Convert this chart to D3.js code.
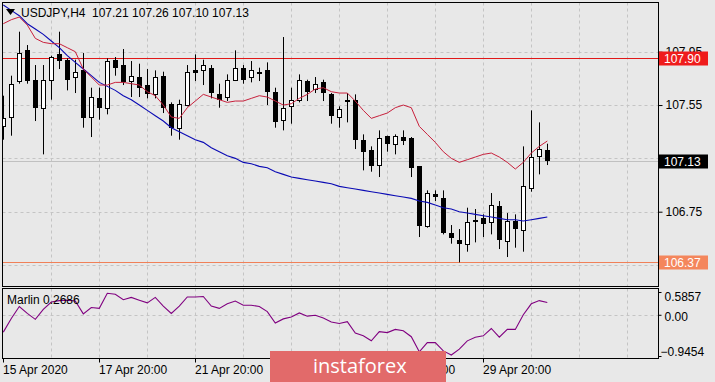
<!DOCTYPE html>
<html><head><meta charset="utf-8">
<script src="https://cdn.jsdelivr.net/npm/d3@7"></script>
<style>
html,body{margin:0;padding:0;background:#e8e8e8;overflow:hidden;}
svg{display:block;}
text{font-family:"Liberation Sans",Arial,sans-serif;font-size:12px;fill:#000;}
</style></head><body>
<svg id="c" width="715" height="382"></svg>
<script>
// ---- Data (USDJPY H4) ----
const symbolName = "USDJPY,H4";
const ohlcTitle = "107.21 107.26 107.10 107.13";
const opens  = [107.39,107.46,107.73,107.96,107.74,107.53,107.74,107.93,107.89,107.76,107.81,107.46,107.60,107.53,107.89,107.85,107.73,107.76,107.70,107.63,107.77,107.56,107.38,107.55,107.81,107.81,107.83,107.63,107.61,107.74,107.83,107.76,107.80,107.81,107.65,107.44,107.54,107.59,107.73,107.67,107.72,107.63,107.46,107.59,107.59,107.29,107.21,107.10,107.32,107.26,107.31,107.30,107.09,106.64,106.88,106.85,106.59,106.54,106.51,106.69,106.70,106.67,106.79,106.53,106.68,106.61,106.93,107.17,107.21];
const highs  = [107.62,107.77,108.10,108.00,107.85,107.85,107.92,108.10,107.90,107.89,107.94,107.68,107.68,107.90,107.91,107.97,107.88,107.86,107.82,107.81,107.80,107.57,107.59,107.85,107.93,107.89,107.85,107.71,107.78,107.96,107.85,107.88,107.83,107.87,107.68,108.06,107.68,107.78,107.74,107.76,107.74,107.64,107.54,107.64,107.63,107.33,107.24,107.36,107.32,107.33,107.36,107.31,107.09,106.91,106.91,106.91,106.65,106.62,106.78,106.77,106.73,106.89,106.83,106.74,106.73,107.24,107.51,107.42,107.26];
const lows   = [107.29,107.32,107.71,107.71,107.43,107.18,107.59,107.82,107.66,107.64,107.38,107.31,107.44,107.48,107.77,107.70,107.61,107.61,107.60,107.60,107.49,107.32,107.29,107.54,107.73,107.70,107.60,107.53,107.58,107.73,107.71,107.72,107.73,107.55,107.38,107.36,107.41,107.57,107.58,107.64,107.58,107.41,107.38,107.42,107.22,107.06,107.05,107.01,107.20,107.18,107.25,107.01,106.56,106.63,106.83,106.58,106.51,106.37,106.45,106.52,106.56,106.58,106.47,106.41,106.48,106.45,106.90,107.03,107.10];
const closes = [107.45,107.71,107.94,107.73,107.53,107.74,107.91,107.88,107.74,107.80,107.45,107.61,107.53,107.88,107.83,107.72,107.77,107.68,107.63,107.76,107.53,107.38,107.56,107.80,107.79,107.85,107.64,107.59,107.74,107.83,107.74,107.81,107.79,107.65,107.42,107.53,107.59,107.74,107.65,107.71,107.64,107.47,107.52,107.58,107.29,107.20,107.09,107.30,107.26,107.32,107.28,107.08,106.64,106.89,106.86,106.59,106.55,106.51,106.67,106.68,106.66,106.80,106.54,106.68,106.62,106.94,107.16,107.22,107.13];
const maRed  = [108.16,108.19,108.21,108.15,108.05,108.02,108.01,108.01,107.98,107.95,107.82,107.76,107.70,107.70,107.72,107.72,107.71,107.70,107.65,107.62,107.55,107.46,107.45,107.53,107.58,107.63,107.61,107.59,107.57,107.58,107.58,107.60,107.62,107.61,107.58,107.55,107.56,107.60,107.63,107.67,107.68,107.65,107.64,107.64,107.58,107.51,107.45,107.47,107.49,107.53,107.55,107.53,107.39,107.33,107.27,107.20,107.15,107.12,107.14,107.16,107.18,107.19,107.16,107.12,107.07,107.12,107.19,107.24,107.28];
const maBlue = [108.30,108.26,108.22,108.16,108.12,108.08,108.03,107.98,107.92,107.87,107.82,107.77,107.72,107.69,107.66,107.62,107.59,107.55,107.51,107.47,107.43,107.38,107.35,107.32,107.29,107.27,107.23,107.20,107.17,107.15,107.12,107.11,107.09,107.08,107.05,107.03,107.01,107.00,106.99,106.98,106.97,106.96,106.94,106.93,106.92,106.91,106.90,106.89,106.88,106.87,106.86,106.85,106.83,106.82,106.80,106.78,106.77,106.75,106.74,106.73,106.72,106.71,106.70,106.69,106.69,106.68,106.69,106.70,106.71];
const marlin = [-0.38,-0.08,0.18,0.03,-0.10,0.12,0.28,0.31,0.32,0.30,0.02,0.16,0.14,0.47,0.45,0.33,0.38,0.32,0.26,0.38,0.19,0.03,0.19,0.39,0.39,0.40,0.19,0.14,0.24,0.30,0.21,0.21,0.18,0.07,-0.18,-0.09,-0.05,0.04,-0.03,-0.01,-0.07,-0.16,-0.19,-0.15,-0.40,-0.46,-0.57,-0.37,-0.39,-0.32,-0.35,-0.48,-0.81,-0.61,-0.61,-0.79,-0.88,-0.75,-0.57,-0.49,-0.46,-0.30,-0.49,-0.32,-0.32,0.00,0.24,0.31,0.2686];
const timeTickIdx    = [0, 12, 24, 36, 48, 60];
const timeTickLabels = ["15 Apr 2020","17 Apr 20:00","21 Apr 20:00","","27 Apr 20:00","29 Apr 20:00"];
const priceTicks  = [107.95, 107.55, 107.15, 106.75, 106.35];
const priceLabelTicks = [107.95, 107.55, 106.75];
const resistance  = 107.90;
const support     = 106.37;
const lastPrice   = 107.13;
const marlinTicks = [0.5857, 0.00, -0.9454];
const marlinLabel = "Marlin 0.2686";

// ---- Layout ----
const W = 715, H = 382;
const L = 2.5, R = 658.5, T = 2.5, B1 = 286.5, T2 = 288.5, B2 = 358.5;
const svg = d3.select("#c");
const n = closes.length;

const x = d3.scaleLinear().domain([0, n - 1]).range([3.3, 547.3]);
const y = d3.scaleLinear().domain([106.75, 107.95]).range([211.7, 51.7]);
const ym = d3.scaleLinear().domain([-0.9454, 0.5857]).range([358, 288]);

svg.append("rect").attr("width", W).attr("height", H).attr("fill", "#e8e8e8");

const defs = svg.append("defs");
defs.append("clipPath").attr("id", "cm").append("rect")
  .attr("x", L + 0.5).attr("y", T + 0.5).attr("width", R - L - 1).attr("height", B1 - T - 1);
defs.append("clipPath").attr("id", "ci").append("rect")
  .attr("x", L + 0.5).attr("y", T2 + 0.5).attr("width", R - L - 1).attr("height", B2 - T2 - 1);

const grid = "#c4c4c4";
const gIdx = d3.range(6, 80, 6);
[[T, B1], [T2, B2]].forEach(([a, b]) => {
  svg.append("g").selectAll("line").data(gIdx).join("line")
    .attr("x1", d => Math.round(x(d)) + 0.5).attr("x2", d => Math.round(x(d)) + 0.5)
    .attr("y1", a).attr("y2", b)
    .attr("stroke", grid).attr("stroke-dasharray", "3,3");
});
svg.append("g").selectAll("line").data(priceTicks).join("line")
  .attr("x1", L).attr("x2", R)
  .attr("y1", d => Math.round(y(d)) + 0.5).attr("y2", d => Math.round(y(d)) + 0.5)
  .attr("stroke", grid).attr("stroke-dasharray", "3,3");
svg.append("line").attr("x1", L).attr("x2", R)
  .attr("y1", Math.round(ym(0)) + 0.5).attr("y2", Math.round(ym(0)) + 0.5)
  .attr("stroke", grid).attr("stroke-dasharray", "3,3");

const main = svg.append("g").attr("clip-path", "url(#cm)");
main.append("line").attr("x1", L).attr("x2", R)
  .attr("y1", Math.round(y(lastPrice)) + 0.5).attr("y2", Math.round(y(lastPrice)) + 0.5)
  .attr("stroke", "#c0c0c0");
main.append("line").attr("x1", L).attr("x2", R)
  .attr("y1", Math.round(y(resistance)) + 0.5).attr("y2", Math.round(y(resistance)) + 0.5)
  .attr("stroke", "#e01818");
main.append("line").attr("x1", L).attr("x2", R)
  .attr("y1", Math.round(y(support)) + 0.5).attr("y2", Math.round(y(support)) + 0.5)
  .attr("stroke", "#f08058");

// candles
const idx = d3.range(n);
const cx = i => Math.round(x(i));
const bull = i => closes[i] >= opens[i];
main.append("g").selectAll("line").data(idx).join("line")
  .attr("x1", i => cx(i) + 0.5).attr("x2", i => cx(i) + 0.5)
  .attr("y1", i => y(highs[i])).attr("y2", i => y(lows[i]))
  .attr("stroke", "#000");
main.append("g").selectAll("rect").data(idx).join("rect")
  .attr("x", i => bull(i) ? cx(i) - 1.5 : cx(i) - 2)
  .attr("width", i => bull(i) ? 4 : 5)
  .attr("y", i => {
    const t = Math.round(y(Math.max(opens[i], closes[i])));
    return bull(i) ? t + 0.5 : t;
  })
  .attr("height", i => {
    const t = Math.round(y(Math.max(opens[i], closes[i])));
    const b = Math.round(y(Math.min(opens[i], closes[i])));
    return Math.max(b - t, bull(i) ? 1 : 2);
  })
  .attr("fill", i => bull(i) ? "#fff" : "#000")
  .attr("stroke", i => bull(i) ? "#000" : "none");

// moving averages
const lineMain = arr => d3.line().x((d, i) => x(i)).y(d => y(d))(arr);
main.append("path").attr("d", lineMain(maBlue)).attr("fill", "none").attr("stroke", "#0a0ab4").attr("stroke-width", 1.1);
main.append("path").attr("d", lineMain(maRed)).attr("fill", "none").attr("stroke", "#c8203c").attr("stroke-width", 1);

// indicator
const ind = svg.append("g").attr("clip-path", "url(#ci)");
ind.append("path").attr("d", d3.line().x((d, i) => x(i)).y(d => ym(d))(marlin))
  .attr("fill", "none").attr("stroke", "#800080").attr("stroke-width", 1.1);

// borders
svg.append("rect").attr("x", L).attr("y", T).attr("width", R - L).attr("height", B1 - T)
  .attr("fill", "none").attr("stroke", "#000");
svg.append("rect").attr("x", L).attr("y", T2).attr("width", R - L).attr("height", B2 - T2)
  .attr("fill", "none").attr("stroke", "#000");

// price axis
const ax = d3.axisRight(y).tickValues(priceTicks).tickSize(4).tickPadding(3)
  .tickFormat(d => priceLabelTicks.includes(d) ? d3.format(".2f")(d) : "");
const axG = svg.append("g").attr("transform", `translate(${R},0)`).call(ax);
axG.select(".domain").remove();
axG.selectAll("line").attr("stroke", "#000");
axG.selectAll("text").attr("font-size", 12).attr("font-family", "Liberation Sans, Arial, sans-serif");

function priceBox(v, bg) {
  const yy = Math.round(y(v));
  svg.append("rect").attr("x", 659).attr("y", yy - 6.5).attr("width", 49).attr("height", 14).attr("fill", bg);
  svg.append("text").attr("x", 664).attr("y", yy + 5).style("fill", "#fff").text(d3.format(".2f")(v));
}
priceBox(resistance, "#ef1c1c");
priceBox(lastPrice, "#000");
priceBox(support, "#f4865c");

// indicator axis
const axM = d3.axisRight(ym).tickValues(marlinTicks).tickSize(3).tickPadding(3)
  .tickFormat(d => d === 0 ? "0.00" : d3.format(".4f")(d));
const amG = svg.append("g").attr("transform", `translate(${R},0)`).call(axM);
amG.select(".domain").remove();
amG.selectAll("line").attr("stroke", "#000");
amG.selectAll("text").attr("font-size", 12).attr("font-family", "Liberation Sans, Arial, sans-serif");
amG.selectAll(".tick").filter(d => d === 0.5857).select("text").attr("dy", "1.0em");
amG.selectAll(".tick").filter(d => d === 0.5857).select("line").attr("transform", "translate(0,4)");
amG.selectAll(".tick").filter(d => d === 0).select("text").attr("dy", "0.5em");
amG.selectAll(".tick").filter(d => d === -0.9454).select("text").attr("dy", "-0.25em").attr("x", 2);
amG.selectAll(".tick").filter(d => d === -0.9454).select("line").attr("transform", "translate(0,-2)");

// time axis
const tg = svg.append("g");
tg.selectAll("line").data(timeTickIdx).join("line")
  .attr("x1", d => Math.round(x(d)) + 0.5).attr("x2", d => Math.round(x(d)) + 0.5)
  .attr("y1", B2).attr("y2", B2 + 4).attr("stroke", "#000");
tg.selectAll("text").data(timeTickIdx.filter((d, i) => timeTickLabels[i] !== "")).join("text")
  .attr("x", d => Math.round(x(d))).attr("y", 373.5)
  .text(d => timeTickLabels[timeTickIdx.indexOf(d)]);

// titles
svg.append("path").attr("d", "M6,9 L15,9 L10.5,15 Z").attr("fill", "#000");
svg.append("text").attr("x", 21).attr("y", 17).text(symbolName);
svg.append("text").attr("x", 92).attr("y", 17).text(ohlcTitle);
svg.append("text").attr("x", 7).attr("y", 304).text(marlinLabel);

// watermark
const wm = svg.append("g");
wm.append("rect").attr("x", 270).attr("y", 351).attr("width", 176).attr("height", 31).attr("fill", "#e26a6a");
wm.append("text").attr("x", 313).attr("y", 373).style("font-family", "Open Sans, Liberation Sans, sans-serif")
  .style("font-size", "20px").style("fill", "#fff").text("instaforex");
</script>
</body></html>
